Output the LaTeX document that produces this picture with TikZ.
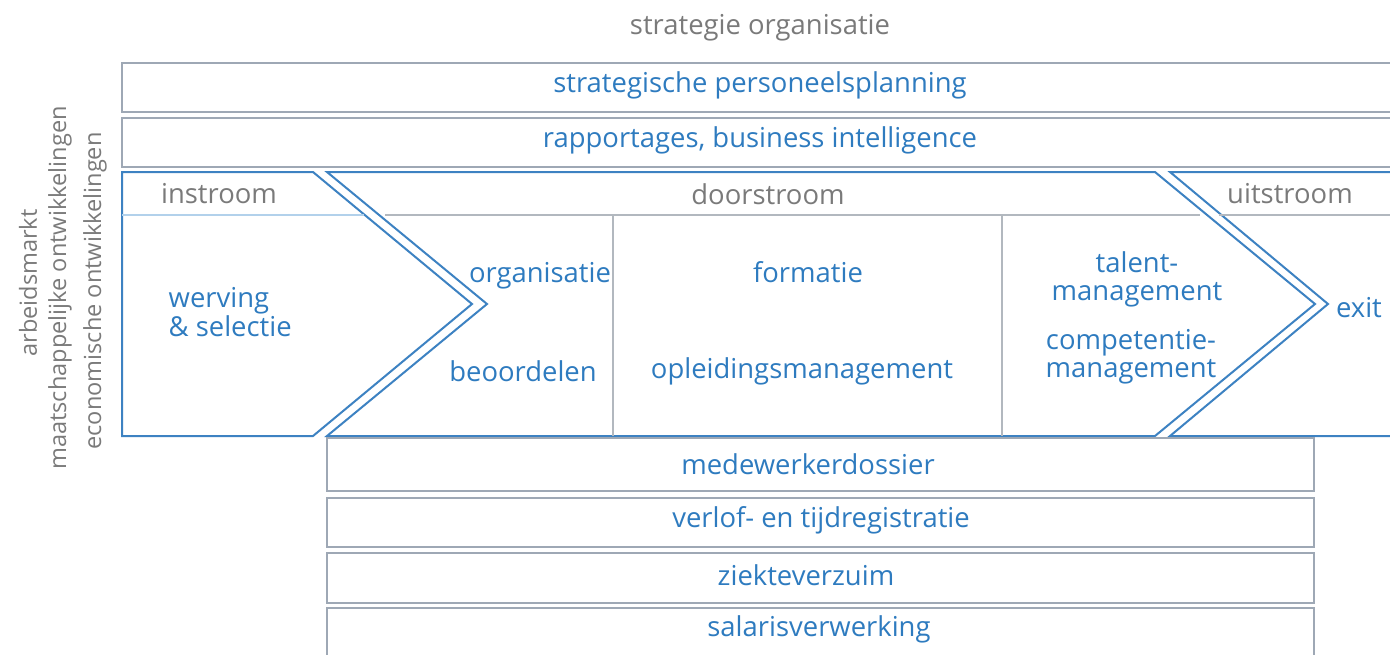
\documentclass[tikz,border=0pt]{standalone}
\usepackage{fontspec}
\setmainfont{Open Sans}
\newlength{\du}
\setlength{\du}{0.01cm}
\definecolor{textblue}{rgb}{0.180000, 0.482000, 0.749000}
\definecolor{textgray}{rgb}{0.480000, 0.480000, 0.480000}
\definecolor{boxgray}{rgb}{0.620000, 0.660000, 0.710000}
\definecolor{flowblue}{rgb}{0.240000, 0.510000, 0.760000}
\tikzset{
  lbl/.style={inner sep=0pt, font=\fontsize{7.8}{8}\selectfont, text=textblue, align=center},
  hdr/.style={lbl, text=textgray},
  side/.style={hdr, rotate=90, font=\fontsize{6.7}{8}\selectfont},
}
\begin{document}
\begin{tikzpicture}
\pgftransformyscale{-1}
\useasboundingbox (0\du,0\du) rectangle (1390\du,654\du);
\pgfsetlinewidth{2.400000\du}
\pgfsetmiterjoin
\pgfsetbuttcap
% bovenste balken
{
\pgfsetstrokecolor{boxgray}
\draw (1390\du,63\du)--(122\du,63\du)--(122\du,112\du)--(1390\du,112\du);
\draw (1390\du,118\du)--(122\du,118\du)--(122\du,167\du)--(1390\du,167\du);
}
\node[hdr] (strategie) at (760\du,28\du){strategie organisatie};
\node[lbl] (planning) at (760\du,85\du){strategische personeelsplanning};
\node[lbl] (rapportages) at (760\du,140\du){rapportages, business intelligence};
% pijlen in-, door- en uitstroom
{
\pgfsetlinewidth{2.000000\du}
\pgfsetstrokecolor{flowblue}
\draw (122\du,172\du)--(313\du,172\du)--(472\du,304\du)--(313\du,436\du)--(122\du,436\du)--cycle;
\draw (327\du,172\du)--(1155\du,172\du)--(1315\du,304\du)--(1155\du,436\du)--(327\du,436\du)--(487\du,304\du)--cycle;
\draw (1390\du,172\du)--(1170\du,172\du)--(1328\du,304\du)--(1170\du,436\du)--(1390\du,436\du);
}
% scheidingslijnen
{
\pgfsetlinewidth{1.400000\du}
\definecolor{dialinecolor}{rgb}{0.700000, 0.820000, 0.920000}
\pgfsetstrokecolor{dialinecolor}
\draw (122\du,215\du)--(364\du,215\du);
\definecolor{dialinecolor}{rgb}{0.700000, 0.720000, 0.750000}
\pgfsetstrokecolor{dialinecolor}
\draw (385\du,215\du)--(1200\du,215\du);
\draw (1219\du,215\du)--(1390\du,215\du);
\draw (613\du,215\du)--(613\du,436\du);
\draw (1002\du,215\du)--(1002\du,436\du);
}
\node[hdr] (instroom) at (219\du,194\du){instroom};
\node[hdr] (doorstroom) at (768\du,194\du){doorstroom};
\node[hdr] (uitstroom) at (1290\du,194\du){uitstroom};
\node[lbl, anchor=west, align=left] (werving) at (168\du,312\du){werving\\\& selectie};
\node[lbl] (organisatie) at (540\du,276\du){organisatie};
\node[lbl] (beoordelen) at (523\du,371\du){beoordelen};
\node[lbl] (formatie) at (808\du,272\du){formatie};
\node[lbl] (opleiding) at (802\du,371\du){opleidingsmanagement};
\node[lbl] (talent) at (1137\du,279\du){talent-\\management};
\node[lbl] (competentie) at (1131\du,357\du){competentie-\\management};
\node[lbl] (exit) at (1359\du,308\du){exit};
% onderste balken
{
\pgfsetstrokecolor{boxgray}
\draw (327\du,438\du) rectangle (1314\du,491\du);
\draw (327\du,498\du) rectangle (1314\du,547\du);
\draw (327\du,553\du) rectangle (1314\du,603\du);
\draw (327\du,660\du)--(327\du,608\du)--(1314\du,608\du)--(1314\du,660\du);
}
\node[lbl] (dossier) at (808\du,464\du){medewerkerdossier};
\node[lbl] (verlof) at (821\du,520\du){verlof- en tijdregistratie};
\node[lbl] (verzuim) at (806\du,575\du){ziekteverzuim};
\node[lbl] (salaris) at (819\du,629\du){salarisverwerking};
% omgeving links
\node[side] (arbeidsmarkt) at (28\du,283\du){arbeidsmarkt};
\node[side] (maatschappij) at (60\du,288\du){maatschappelijke ontwikkelingen};
\node[side] (economie) at (95\du,291\du){economische ontwikkelingen};
\end{tikzpicture}
\end{document}
